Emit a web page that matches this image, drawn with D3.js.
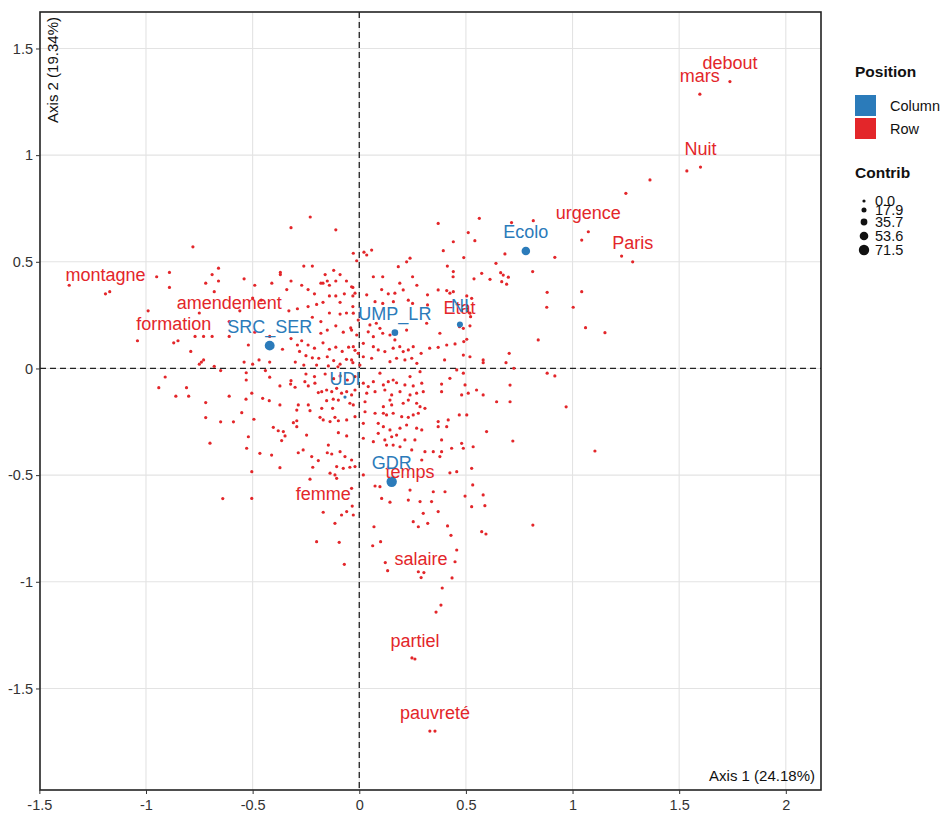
<!DOCTYPE html>
<html><head><meta charset="utf-8">
<script src="https://cdn.jsdelivr.net/npm/d3@7"></script>
<style>
body{margin:0;background:#fff;}
text{font-family:"Liberation Sans",Arial,Helvetica,sans-serif;}
</style>
</head><body>
<svg id="chart" width="948" height="814"></svg>
<script>
// ---------------- DATA ----------------
const xTicks = [-1.5, -1, -0.5, 0, 0.5, 1, 1.5, 2];
const xTickLabels = ["-1.5", "-1", "-0.5", "0", "0.5", "1", "1.5", "2"];
const yTicks = [-1.5, -1, -0.5, 0, 0.5, 1, 1.5];
const yTickLabels = ["-1.5", "-1", "-0.5", "0", "0.5", "1", "1.5"];
const xTitle = "Axis 1 (24.18%)";
const yTitle = "Axis 2 (19.34%)";

// Column points (blue)
const colNames   = ["SRC_SER", "UMP_LR", "NI", "Ecolo", "UDI", "GDR"];
const colX       = [-0.42, 0.167, 0.472, 0.781, -0.067, 0.152];
const colY       = [0.107, 0.168, 0.206, 0.551, -0.134, -0.531];
const colContrib = [66, 34, 28, 53, 0.5, 71.5];

// Labelled row points (red)
const rowLabels = ["montagne", "amendement", "formation", "Etat", "urgence", "Paris", "Nuit", "mars", "debout", "temps", "femme", "salaire", "partiel", "pauvreté"];
const rowLabX   = [-1.19, -0.61, -0.87, 0.47, 1.074, 1.282, 1.60, 1.597, 1.738, 0.238, -0.169, 0.29, 0.261, 0.355];
const rowLabY   = [0.35, 0.22, 0.12, 0.196, 0.641, 0.50, 0.944, 1.286, 1.345, -0.57, -0.674, -0.98, -1.362, -1.70];

// Other row points (red, unlabelled)
const rowPoints = [
[-1.36,0.39],[-1.17,0.36],[-0.95,0.43],[-0.89,0.45],[-0.89,0.38],[-0.78,0.57],[-0.72,0.40],[-0.69,0.44],[-0.66,0.47],[-0.66,0.41],
[-0.68,0.36],[-0.99,0.27],[-0.75,0.26],[-1.04,0.13],[-0.85,0.13],[-0.77,0.15],[-0.73,0.15],[-0.69,0.15],[-0.61,0.15],[-0.79,0.08],
[-0.73,0.04],[-0.74,0.03],[-0.75,0.02],[-0.68,0.01],[-0.91,-0.04],[-0.65,-0.01],[-0.94,-0.09],[-0.81,-0.09],[-0.86,-0.13],[-0.80,-0.13],
[-0.72,-0.16],[-0.61,-0.13],[-0.72,-0.23],[-0.65,-0.25],[-0.59,-0.25],[-0.70,-0.35],[-0.64,-0.61],[-0.32,0.66],[-0.23,0.71],[-0.11,0.65],
[-0.54,0.42],[-0.37,0.45],[-0.32,0.41],[-0.34,0.37],[-0.50,0.33],[-0.56,0.27],[-0.52,0.11],[-0.49,0.17],[-0.42,0.15],[-0.42,0.03],
[-0.54,0.03],[-0.53,-0.02],[-0.50,0.02],[-0.26,0.48],[-0.22,0.48],[-0.12,0.46],[-0.15,0.41],[-0.17,0.40],[-0.49,0.39],[-0.46,0.32],
[-0.47,0.04],[-0.44,-0.01],
[-0.37,0.44],[-0.16,0.44],[-0.09,0.44],[-0.41,0.40],[-0.27,0.39],[-0.24,0.37],[-0.21,0.35],[-0.18,0.40],[-0.14,0.39],[-0.11,0.41],
[-0.06,0.41],[-0.03,0.38],[-0.33,0.27],[-0.29,0.28],[-0.24,0.29],[-0.20,0.30],[-0.17,0.31],[-0.14,0.34],[-0.11,0.34],[-0.09,0.31],
[-0.07,0.35],[-0.03,0.34],[-0.03,0.29],[-0.06,0.26],[-0.09,0.255],[-0.14,0.26],[-0.18,0.22],[-0.22,0.24],[-0.15,0.18],[-0.11,0.20],
[-0.075,0.17],[-0.04,0.19],[-0.18,0.165],[-0.36,0.09],[-0.32,0.14],[-0.29,0.11],[-0.27,0.13],[-0.24,0.11],[-0.21,0.095],[-0.17,0.12],
[-0.14,0.09],[-0.11,0.10],[-0.08,0.08],[-0.05,0.10],[-0.02,0.085],[-0.28,0.08],[-0.25,0.06],[-0.22,0.05],[-0.19,0.048],[-0.15,0.055],
[-0.12,0.037],[-0.09,0.02],[-0.06,0.043],[-0.03,0.027],[-0.30,0.03],[-0.26,0.016],[-0.20,0.016],[-0.145,0.012],[-0.10,0.008],[-0.53,-0.054],
[-0.42,-0.041],[-0.32,-0.057],[-0.25,-0.026],[-0.21,-0.038],[-0.16,-0.026],[-0.12,-0.048],[-0.09,-0.035],[-0.056,-0.054],[-0.02,-0.038],
[0.066,0.43],[0.11,0.43],[0.19,0.40],[0.25,0.43],[0.44,0.43],[0.035,0.345],[0.105,0.37],[0.136,0.35],[0.167,0.353],[0.206,0.368],
[0.27,0.39],[0.32,0.345],[0.37,0.368],[0.425,0.353],[0.074,0.313],[0.11,0.305],[0.16,0.313],[0.23,0.32],[0.25,0.305],[0.32,0.298],
[0.05,0.204],[0.08,0.212],[0.097,0.188],[0.042,0.172],[0.066,0.149],[0.11,0.165],[0.144,0.157],[0.167,0.134],[0.222,0.18],[0.316,0.212],
[0.378,0.165],[0.488,0.188],[0.019,0.118],[0.066,0.102],[0.089,0.087],[0.12,0.079],[0.159,0.095],[0.19,0.102],[0.206,0.079],[0.23,0.087],
[0.253,0.102],[0.29,0.071],[0.33,0.095],[0.37,0.099],[0.41,0.11],[0.49,0.126],[0.019,0.055],[0.058,0.048],[0.144,0.032],[0.175,0.048],
[0.214,0.04],[0.246,0.048],[0.27,0.024],[0.40,0.04],[0.097,-0.022],[0.159,-0.054],[0.425,-0.046],[0.238,-0.038],[0.285,-0.015],[0.488,-0.022],
[-0.036,0.383],[-0.02,0.353],[-0.028,0.259],[-0.005,0.227],[-0.036,0.18],[-0.012,0.157],[-0.028,0.102],[-0.005,0.071],[-0.036,0.04],[0.003,0.016],
[-0.028,0.54],[0.022,0.545],[0.035,0.532],[0.058,0.555],[-0.012,0.505],[0.222,0.50],[0.238,0.517],[0.37,0.68],[0.183,0.477],
[0.563,0.704],[0.714,0.684],[0.816,0.693],[1.25,0.821],[0.511,0.637],[0.542,0.599],[0.441,0.594],[0.394,0.552],[0.683,0.537],[0.917,0.521],
[1.043,0.602],[1.23,0.527],[0.49,0.52],[0.641,0.493],[0.413,0.48],[0.441,0.454],[0.574,0.446],[0.538,0.42],[0.613,0.418],[0.663,0.449],
[0.675,0.438],[0.699,0.428],[0.668,0.407],[0.691,0.395],[0.813,0.454],[0.881,0.357],[1.043,0.36],[0.879,0.287],[1.003,0.287],[0.41,0.365],
[0.441,0.36],[0.504,0.34],[0.527,0.329],[0.519,0.259],[0.522,0.243],[0.519,0.20],[1.061,0.191],[1.152,0.168],[0.839,0.134],[0.504,0.137],
[0.449,0.115],[0.703,0.071],[0.488,0.063],[0.519,0.055],[0.581,0.04],[0.581,0.027],[0.688,0.027],[0.725,0.001],[0.457,-0.007],[0.881,-0.022],
[0.917,-0.035],
[-0.372,-0.082],[-0.322,-0.073],[-0.301,-0.088],[-0.255,-0.062],[-0.239,-0.082],[-0.208,-0.069],[-0.176,-0.109],[-0.192,-0.113],[-0.153,-0.101],[-0.129,-0.109],
[-0.106,-0.093],[-0.083,-0.116],[-0.059,-0.109],[-0.036,-0.124],[-0.02,-0.101],[-0.504,-0.116],[-0.531,-0.144],[-0.453,-0.14],[-0.422,-0.151],[-0.372,-0.171],
[-0.286,-0.171],[-0.293,-0.195],[-0.239,-0.171],[-0.231,-0.198],[-0.153,-0.151],[-0.122,-0.144],[-0.098,-0.148],[-0.044,-0.163],[-0.176,-0.187],[-0.125,-0.187],
[-0.551,-0.207],[-0.494,-0.238],[-0.309,-0.254],[-0.293,-0.245],[-0.184,-0.229],[-0.169,-0.241],[-0.137,-0.249],[-0.114,-0.229],[-0.098,-0.245],[-0.059,-0.241],
[-0.02,-0.226],[-0.403,-0.276],[-0.38,-0.292],[-0.356,-0.296],[-0.293,-0.273],[-0.364,-0.338],[-0.348,-0.316],[-0.247,-0.312],[-0.098,-0.301],[-0.059,-0.316],
[-0.52,-0.32],[-0.528,-0.374],[-0.466,-0.398],[-0.411,-0.406],[-0.286,-0.395],[-0.263,-0.382],[-0.223,-0.413],[-0.192,-0.432],[-0.145,-0.359],[-0.15,-0.395],
[-0.129,-0.401],[-0.09,-0.39],[-0.067,-0.413],[-0.036,-0.429],[-0.372,-0.465],[-0.218,-0.463],[-0.106,-0.46],[-0.075,-0.468],[-0.044,-0.463],[-0.137,-0.491],
[-0.114,-0.499],[-0.106,-0.515],[-0.231,-0.519],[-0.504,-0.484],[-0.504,-0.609],
[0.019,-0.069],[0.042,-0.085],[0.066,-0.062],[0.113,-0.077],[0.136,-0.062],[0.175,-0.067],[0.214,-0.077],[0.253,-0.082],[0.293,-0.069],[0.386,-0.073],
[0.496,-0.077],[0.035,-0.116],[0.074,-0.109],[0.12,-0.101],[0.152,-0.124],[0.191,-0.109],[0.238,-0.124],[0.269,-0.116],[0.30,-0.109],[0.386,-0.109],
[0.48,-0.124],[-0.028,-0.171],[0.027,-0.156],[0.113,-0.179],[0.144,-0.148],[0.152,-0.171],[0.206,-0.163],[0.23,-0.148],[0.269,-0.163],[0.285,-0.179],
[0.308,-0.187],[0.027,-0.203],[0.074,-0.21],[0.113,-0.21],[0.128,-0.218],[0.159,-0.21],[0.199,-0.226],[0.23,-0.229],[0.253,-0.218],[0.277,-0.21],
[0.37,-0.249],[0.417,-0.241],[0.469,-0.218],[0.504,-0.218],[0.019,-0.257],[0.089,-0.257],[0.113,-0.273],[0.144,-0.288],[0.191,-0.28],[0.222,-0.265],
[0.269,-0.28],[0.293,-0.288],[0.37,-0.273],[0.019,-0.327],[0.066,-0.343],[0.089,-0.304],[0.12,-0.335],[0.152,-0.32],[0.175,-0.312],[0.214,-0.335],
[0.261,-0.335],[0.386,-0.335],[0.48,-0.351],[0.128,-0.359],[0.159,-0.359],[0.191,-0.367],[0.246,-0.382],[0.308,-0.39],[0.347,-0.39],[0.386,-0.39],
[0.433,-0.374],[0.488,-0.374],[0.293,-0.429],[0.378,-0.413],[-0.02,-0.46],[0.019,-0.499],[0.074,-0.551],[0.097,-0.554],[0.425,-0.489],[0.457,-0.484],
[0.347,-0.578],[0.402,-0.578],[-0.036,-0.562],[0.105,-0.609],[0.496,-0.598],
[0.707,-0.078],[0.644,-0.156],[0.707,-0.156],[0.581,-0.124],[0.55,-0.101],[0.511,-0.116],[0.597,-0.296],[0.534,-0.367],[0.527,-0.468],[0.532,-0.546],
[0.581,-0.593],[0.41,-0.273],
[-0.114,-0.726],[-0.20,-0.812],[-0.094,-0.815],[-0.07,-0.918],[-0.033,-0.645],[-0.059,-0.671],[-0.083,-0.687],[-0.028,-0.687],[0.069,-0.742],[0.063,-0.831],
[0.10,-0.812],[0.144,-0.627],[0.23,-0.617],[0.285,-0.624],[0.339,-0.624],[0.37,-0.671],[0.30,-0.679],[0.253,-0.718],[0.277,-0.742],[0.321,-0.726],
[0.414,-0.738],[0.43,-0.782],[0.457,-0.851],[0.449,-0.906],[0.527,-0.648],[0.589,-0.643],[0.574,-0.765],[0.594,-0.776],[0.122,-0.91],[0.133,-0.948],
[0.277,-0.953],[0.303,-0.957],[0.389,-1.029],[0.435,-0.982],[0.383,-1.109],[0.36,-1.142],[0.247,-1.357],[0.331,-1.70],
[0.97,-0.18],[1.105,-0.387],[0.814,-0.734],[0.72,-0.34],[1.363,0.884],[1.536,0.926]
];

// Legend
const legendPositions = ["Column", "Row"];
const sizeLegendValues = [0.0, 17.9, 35.7, 53.6, 71.5];
const sizeLegendLabels = ["0.0", "17.9", "35.7", "53.6", "71.5"];

// ---------------- DRAW ----------------
const BLUE = "#2b7bba", RED = "#e3262a";
const svg = d3.select("#chart");
const P = {l: 40, r: 821, t: 12, b: 790};
const x = d3.scaleLinear().domain([-1.497, 2.165]).range([P.l, P.r]);
const y = d3.scaleLinear().domain([-1.976, 1.671]).range([P.b, P.t]);
const rSize = d3.scaleLinear().domain([0, 71.5]).range([1.6, 5.2]);
const color = d3.scaleOrdinal().domain(legendPositions).range([BLUE, RED]);
const LABEL_OFFSET = 12.5;

svg.append("rect").attr("width", 948).attr("height", 814).attr("fill", "#fff");

// grid
const grid = svg.append("g");
grid.selectAll("line.gx").data(xTicks.filter(v => x(v) > P.l + 1 && x(v) < P.r - 1)).join("line")
  .attr("x1", d => x(d)).attr("x2", d => x(d)).attr("y1", P.t).attr("y2", P.b)
  .attr("stroke", "#e3e3e3").attr("stroke-width", 1.1);
grid.selectAll("line.gy").data(yTicks).join("line")
  .attr("y1", d => y(d)).attr("y2", d => y(d)).attr("x1", P.l).attr("x2", P.r)
  .attr("stroke", "#e3e3e3").attr("stroke-width", 1.1);

// zero lines
svg.append("line").attr("x1", x(0)).attr("x2", x(0)).attr("y1", P.t).attr("y2", P.b)
  .attr("stroke", "#222").attr("stroke-width", 1.3).attr("stroke-dasharray", "6,4");
svg.append("line").attr("y1", y(0)).attr("y2", y(0)).attr("x1", P.l).attr("x2", P.r)
  .attr("stroke", "#222").attr("stroke-width", 1.3).attr("stroke-dasharray", "6,4");

// row points
const pts = svg.append("g");
pts.selectAll("circle.r").data(rowPoints).join("circle")
  .attr("cx", d => x(d[0])).attr("cy", d => y(d[1])).attr("r", rSize(0))
  .attr("fill", color("Row"));
pts.selectAll("circle.rl").data(rowLabels).join("circle")
  .attr("cx", (d, i) => x(rowLabX[i])).attr("cy", (d, i) => y(rowLabY[i])).attr("r", rSize(0))
  .attr("fill", color("Row"));
// column points
pts.selectAll("circle.c").data(colNames).join("circle")
  .attr("cx", (d, i) => x(colX[i])).attr("cy", (d, i) => y(colY[i])).attr("r", (d, i) => rSize(colContrib[i]))
  .attr("fill", color("Column"));

// labels
const lab = svg.append("g").attr("font-size", 18).attr("text-anchor", "middle");
lab.selectAll("text.rl").data(rowLabels).join("text")
  .attr("x", (d, i) => x(rowLabX[i])).attr("y", (d, i) => y(rowLabY[i]) - LABEL_OFFSET)
  .attr("fill", color("Row")).text(d => d);
lab.selectAll("text.cl").data(colNames).join("text")
  .attr("x", (d, i) => x(colX[i])).attr("y", (d, i) => y(colY[i]) - LABEL_OFFSET)
  .attr("fill", color("Column")).text(d => d);

// panel border
svg.append("rect").attr("x", P.l).attr("y", P.t).attr("width", P.r - P.l).attr("height", P.b - P.t)
  .attr("fill", "none").attr("stroke", "#222").attr("stroke-width", 1.6);

// axes
const xAxis = d3.axisBottom(x).tickValues(xTicks).tickFormat((d, i) => xTickLabels[i]).tickSize(4).tickSizeOuter(0);
const gx = svg.append("g").attr("transform", `translate(0,${P.b})`).call(xAxis);
const yAxis = d3.axisLeft(y).tickValues(yTicks).tickFormat((d, i) => yTickLabels[i]).tickSize(4).tickSizeOuter(0);
const gy = svg.append("g").attr("transform", `translate(${P.l},0)`).call(yAxis);
[gx, gy].forEach(g => {
  g.select(".domain").remove();
  g.selectAll(".tick line").attr("stroke", "#333");
  g.selectAll(".tick text").attr("fill", "#333").attr("font-size", 14.5)
    .attr("font-family", '"Liberation Sans",Arial,sans-serif');
});
gx.selectAll(".tick text").attr("dy", "0.9em");

// axis titles inside panel
svg.append("text").attr("x", 815).attr("y", 781).attr("text-anchor", "end")
  .attr("font-size", 15).attr("fill", "#111").text(xTitle);
svg.append("text").attr("transform", "translate(58,17) rotate(-90)").attr("text-anchor", "end")
  .attr("font-size", 15).attr("fill", "#111").text(yTitle);

// legend
const lg = svg.append("g");
lg.append("text").attr("x", 855).attr("y", 77).attr("font-size", 15.5).attr("font-weight", "bold").attr("fill", "#111").text("Position");
legendPositions.forEach((p, i) => {
  lg.append("rect").attr("x", 855).attr("y", 95 + i * 23).attr("width", 21).attr("height", 21).attr("fill", color(p));
  lg.append("text").attr("x", 890).attr("y", 111 + i * 23).attr("font-size", 14.5).attr("fill", "#111").text(p);
});
lg.append("text").attr("x", 855).attr("y", 178).attr("font-size", 15.5).attr("font-weight", "bold").attr("fill", "#111").text("Contrib");
const sizeY = [201, 210, 222, 236, 250];
sizeLegendValues.forEach((v, i) => {
  lg.append("circle").attr("cx", 864).attr("cy", sizeY[i]).attr("r", rSize(v)).attr("fill", "#111");
  lg.append("text").attr("x", 875).attr("y", sizeY[i] + 5).attr("font-size", 14.5).attr("fill", "#111").text(sizeLegendLabels[i]);
});
</script>
</body></html>
